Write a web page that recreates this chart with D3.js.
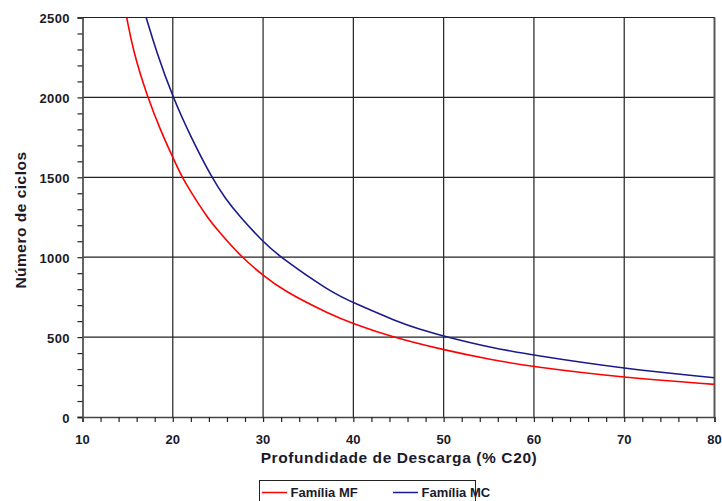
<!DOCTYPE html>
<html>
<head>
<meta charset="utf-8">
<script src="https://cdn.jsdelivr.net/npm/d3@7"></script>
<style>
  body { margin: 0; background: #fff; }
  svg text { font-family: "Liberation Sans", Arial, sans-serif; font-weight: bold; fill: #1a1a2a; }
</style>
</head>
<body>
<div class="chart"></div>
<script>
// profundidade de descarga (%) vs numero de ciclos
const mfDepth = [14.9, 15.6, 17.2, 18.75, 20, 20.9, 21.9, 23.8, 25, 27.6, 30, 32.2, 37.5, 40, 44.3, 50, 55.2, 60, 70, 80];
const mfCycles = [2500, 2292, 2000, 1780, 1625, 1515, 1417, 1250, 1167, 1000, 886, 792, 640, 584, 500, 420, 359, 313, 246, 204];

const mcDepth = [17.05, 18.15, 20, 22.1, 24.3, 25.8, 27.45, 30, 31.9, 37.5, 40, 44.8, 47.4, 50, 55.2, 60, 70, 80];
const mcCycles = [2500, 2292, 2000, 1740, 1500, 1368, 1252, 1096, 1000, 781, 715, 598, 548, 506, 434, 386, 302, 246];

const xTicks = [10, 20, 30, 40, 50, 60, 70, 80];
const yTicks = [0, 500, 1000, 1500, 2000, 2500];

const seriesNames = ['Família MF', 'Família MC'];
const seriesColors = ['#ff0000', '#1a1a8a'];

const width = 722, height = 501;
const plotL = 82.5, plotR = 714.5, plotT = 17.5, plotB = 417;

let svg = d3.select('.chart').append('svg')
  .attr('width', width)
  .attr('height', height)

let x = d3.scaleLinear().domain([10, 80]).range([plotL, plotR]);
let y = d3.scaleLinear().domain([0, 2500]).range([plotB, plotT]);

// grid
let grid = svg.append('g')
grid.selectAll('.vg')
  .data(xTicks.slice(1))
  .enter()
  .append('line')
  .attr('x1', d => x(d)).attr('x2', d => x(d))
  .attr('y1', plotT).attr('y2', plotB)
  .attr('stroke', '#222').attr('stroke-width', 1.2)
grid.selectAll('.hg')
  .data(yTicks.slice(1))
  .enter()
  .append('line')
  .attr('x1', plotL).attr('x2', plotR)
  .attr('y1', d => y(d)).attr('y2', d => y(d))
  .attr('stroke', '#222').attr('stroke-width', 1.2)

// x axis
let xAxis = svg.append('g')
  .attr('transform', `translate(0,${plotB})`)
  .call(d3.axisBottom(x).tickValues(d3.range(10, 81, 2)).tickSize(5).tickFormat(''))
xAxis.select('.domain').attr('stroke', '#444').attr('stroke-width', 1.5)
xAxis.selectAll('.tick line').attr('stroke', '#222').attr('stroke-width', 1.2)

svg.append('g')
  .selectAll('text')
  .data(xTicks)
  .enter()
  .append('text')
  .attr('x', d => x(d))
  .attr('y', 444)
  .attr('text-anchor', 'middle')
  .attr('font-size', 13)
  .text(d => d)

// y axis
let yAxis = svg.append('g')
  .attr('transform', `translate(${plotL},0)`)
  .call(d3.axisLeft(y).tickValues(d3.range(0, 2501, 100)).tickSize(5).tickFormat(''))
yAxis.select('.domain').attr('stroke', '#555').attr('stroke-width', 1.8)
yAxis.selectAll('.tick line').attr('stroke', '#222').attr('stroke-width', 1.2)

svg.append('g')
  .selectAll('text')
  .data(yTicks)
  .enter()
  .append('text')
  .attr('x', 70)
  .attr('y', d => y(d) + 5.5)
  .attr('text-anchor', 'end')
  .attr('font-size', 13)
  .attr('letter-spacing', 0.4)
  .text(d => d)

// box top / right
svg.append('line')
  .attr('x1', plotL).attr('x2', plotR).attr('y1', plotT).attr('y2', plotT)
  .attr('stroke', '#222').attr('stroke-width', 1.2)
svg.append('line')
  .attr('x1', plotR).attr('x2', plotR).attr('y1', plotT).attr('y2', plotB)
  .attr('stroke', '#555').attr('stroke-width', 1.8)

// curves
svg.append('clipPath').attr('id', 'clip')
  .append('rect').attr('x', plotL).attr('y', plotT).attr('width', plotR - plotL).attr('height', plotB - plotT)

let line = d3.line()
  .x(d => x(d[0]))
  .y(d => y(d[1]))
  .curve(d3.curveBasis)

let series = [d3.zip(mfDepth, mfCycles), d3.zip(mcDepth, mcCycles)];

svg.append('g')
  .attr('clip-path', 'url(#clip)')
  .selectAll('path')
  .data(series)
  .enter()
  .append('path')
  .attr('d', line)
  .attr('fill', 'none')
  .attr('stroke', (d, i) => seriesColors[i])
  .attr('stroke-width', 1.6)

// titles
svg.append('text')
  .attr('x', 399)
  .attr('y', 463)
  .attr('text-anchor', 'middle')
  .attr('font-size', 15.5)
  .attr('letter-spacing', 0.6)
  .text('Profundidade de Descarga (% C20)')

svg.append('text')
  .attr('transform', 'translate(25.5,220) rotate(-90)')
  .attr('text-anchor', 'middle')
  .attr('font-size', 15.5)
  .attr('letter-spacing', 0.5)
  .text('Número de ciclos')

// legend
let legend = svg.append('g')
legend.append('rect')
  .attr('x', 259.5).attr('y', 480.5)
  .attr('width', 216).attr('height', 30)
  .attr('fill', '#fff').attr('stroke', '#222').attr('stroke-width', 1)

let legendX = [262, 393];
seriesNames.forEach((name, i) => {
  legend.append('line')
    .attr('x1', legendX[i]).attr('x2', legendX[i] + 25)
    .attr('y1', 492.5).attr('y2', 492.5)
    .attr('stroke', seriesColors[i]).attr('stroke-width', 1.5)
  legend.append('text')
    .attr('x', legendX[i] + 28.5)
    .attr('y', 497)
    .attr('font-size', 13)
    .text(name)
})
</script>
</body>
</html>
